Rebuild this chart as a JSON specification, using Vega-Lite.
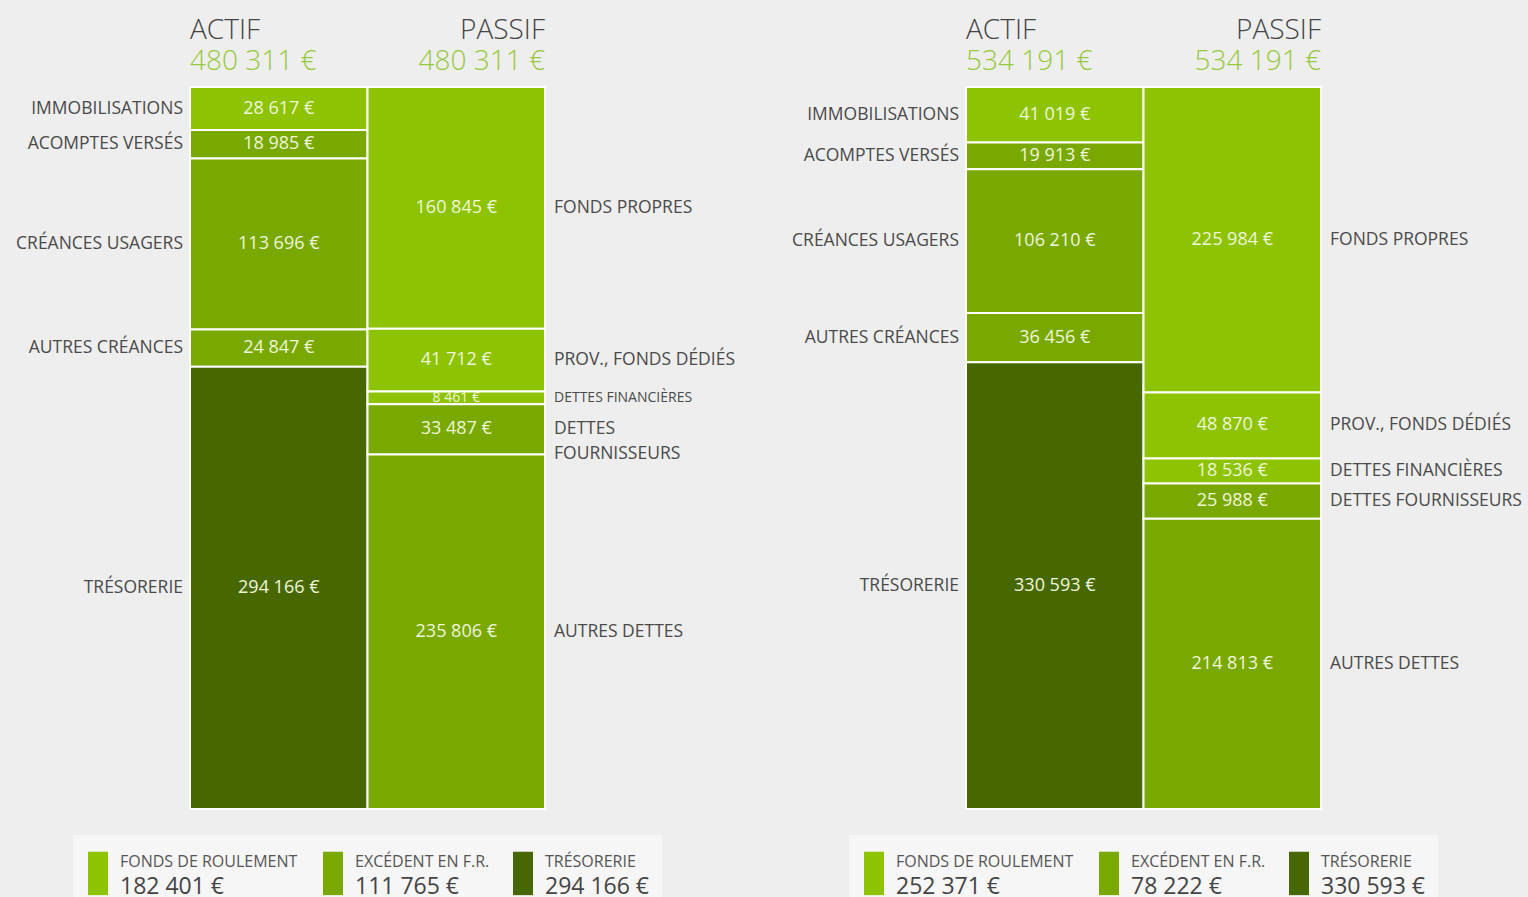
{
  "$schema": "https://vega.github.io/schema/vega-lite/v6.json",
  "background": "#EEEEEE",
  "autosize": {"type": "none"},
  "padding": {"left": 73, "top": 1, "right": 1455, "bottom": 896},
  "bounds": "flush",
  "columns": 2,
  "spacing": {"row": 26, "column": 187},
  "config": {
    "font": "Open Sans",
    "view": {"stroke": null},
    "locale": {"number": {"decimal": ",", "thousands": "\u00a0", "grouping": [3], "currency": ["", "\u00a0€"]}}
  },
  "datasets": {
    "postes": [
      {"bilan": "Bilan 1", "cote": "ACTIF", "ord": 1, "poste": "IMMOBILISATIONS", "valeur": 28617, "groupe": "FONDS DE ROULEMENT"},
      {"bilan": "Bilan 1", "cote": "ACTIF", "ord": 2, "poste": "ACOMPTES VERSÉS", "valeur": 18985, "groupe": "EXCÉDENT EN F.R."},
      {"bilan": "Bilan 1", "cote": "ACTIF", "ord": 3, "poste": "CRÉANCES USAGERS", "valeur": 113696, "groupe": "EXCÉDENT EN F.R."},
      {"bilan": "Bilan 1", "cote": "ACTIF", "ord": 4, "poste": "AUTRES CRÉANCES", "valeur": 24847, "groupe": "EXCÉDENT EN F.R."},
      {"bilan": "Bilan 1", "cote": "ACTIF", "ord": 5, "poste": "TRÉSORERIE", "valeur": 294166, "groupe": "TRÉSORERIE"},
      {"bilan": "Bilan 1", "cote": "PASSIF", "ord": 1, "poste": "FONDS PROPRES", "valeur": 160845, "groupe": "FONDS DE ROULEMENT"},
      {"bilan": "Bilan 1", "cote": "PASSIF", "ord": 2, "poste": "PROV., FONDS DÉDIÉS", "valeur": 41712, "groupe": "FONDS DE ROULEMENT"},
      {"bilan": "Bilan 1", "cote": "PASSIF", "ord": 3, "poste": "DETTES FINANCIÈRES", "valeur": 8461, "groupe": "FONDS DE ROULEMENT"},
      {"bilan": "Bilan 1", "cote": "PASSIF", "ord": 4, "poste": "DETTES\nFOURNISSEURS", "valeur": 33487, "groupe": "EXCÉDENT EN F.R."},
      {"bilan": "Bilan 1", "cote": "PASSIF", "ord": 5, "poste": "AUTRES DETTES", "valeur": 235806, "groupe": "EXCÉDENT EN F.R."},
      {"bilan": "Bilan 2", "cote": "ACTIF", "ord": 1, "poste": "IMMOBILISATIONS", "valeur": 41019, "groupe": "FONDS DE ROULEMENT"},
      {"bilan": "Bilan 2", "cote": "ACTIF", "ord": 2, "poste": "ACOMPTES VERSÉS", "valeur": 19913, "groupe": "EXCÉDENT EN F.R."},
      {"bilan": "Bilan 2", "cote": "ACTIF", "ord": 3, "poste": "CRÉANCES USAGERS", "valeur": 106210, "groupe": "EXCÉDENT EN F.R."},
      {"bilan": "Bilan 2", "cote": "ACTIF", "ord": 4, "poste": "AUTRES CRÉANCES", "valeur": 36456, "groupe": "EXCÉDENT EN F.R."},
      {"bilan": "Bilan 2", "cote": "ACTIF", "ord": 5, "poste": "TRÉSORERIE", "valeur": 330593, "groupe": "TRÉSORERIE"},
      {"bilan": "Bilan 2", "cote": "PASSIF", "ord": 1, "poste": "FONDS PROPRES", "valeur": 225984, "groupe": "FONDS DE ROULEMENT"},
      {"bilan": "Bilan 2", "cote": "PASSIF", "ord": 2, "poste": "PROV., FONDS DÉDIÉS", "valeur": 48870, "groupe": "FONDS DE ROULEMENT"},
      {"bilan": "Bilan 2", "cote": "PASSIF", "ord": 3, "poste": "DETTES FINANCIÈRES", "valeur": 18536, "groupe": "FONDS DE ROULEMENT"},
      {"bilan": "Bilan 2", "cote": "PASSIF", "ord": 4, "poste": "DETTES FOURNISSEURS", "valeur": 25988, "groupe": "EXCÉDENT EN F.R."},
      {"bilan": "Bilan 2", "cote": "PASSIF", "ord": 5, "poste": "AUTRES DETTES", "valeur": 214813, "groupe": "EXCÉDENT EN F.R."}
    ],
    "legende": [
      {"bilan": "Bilan 1", "item": 1, "groupe": "FONDS DE ROULEMENT", "valeur": 182401},
      {"bilan": "Bilan 1", "item": 2, "groupe": "EXCÉDENT EN F.R.", "valeur": 111765},
      {"bilan": "Bilan 1", "item": 3, "groupe": "TRÉSORERIE", "valeur": 294166},
      {"bilan": "Bilan 2", "item": 1, "groupe": "FONDS DE ROULEMENT", "valeur": 252371},
      {"bilan": "Bilan 2", "item": 2, "groupe": "EXCÉDENT EN F.R.", "valeur": 78222},
      {"bilan": "Bilan 2", "item": 3, "groupe": "TRÉSORERIE", "valeur": 330593}
    ]
  },
  "concat": [
    {
      "width": 589, "height": 60,
      "data": {"name": "postes"},
      "transform": [{"filter": "datum.bilan === 'Bilan 1'"}, {"aggregate": [{"op": "sum", "field": "valeur", "as": "total"}], "groupby": ["cote"]}],
      "layer": [
        {"transform": [{"filter": "datum.cote === 'ACTIF'"}], "mark": {"type": "text", "align": "left", "baseline": "middle", "dy": 0, "fontSize": 28, "fontWeight": 300, "color": "#444444"},
         "encoding": {"x": {"field": "cote", "type": "nominal", "bandPosition": 0, "scale": {"type": "band", "domain": ["ACTIF", "PASSIF"], "paddingInner": 0, "paddingOuter": 0.6592}, "axis": null}, "text": {"field": "cote"}}},
        {"transform": [{"filter": "datum.cote === 'ACTIF'"}], "mark": {"type": "text", "align": "left", "baseline": "middle", "dy": 31, "fontSize": 28, "fontWeight": 300, "color": "#97C93C"},
         "encoding": {"x": {"field": "cote", "type": "nominal", "bandPosition": 0, "scale": {"type": "band", "domain": ["ACTIF", "PASSIF"], "paddingInner": 0, "paddingOuter": 0.6592}, "axis": null}, "text": {"field": "total", "type": "quantitative", "format": "$,.0f"}}},
        {"transform": [{"filter": "datum.cote === 'PASSIF'"}], "mark": {"type": "text", "align": "right", "baseline": "middle", "dy": 0, "fontSize": 28, "fontWeight": 300, "color": "#444444"},
         "encoding": {"x": {"field": "cote", "type": "nominal", "bandPosition": 1, "scale": {"type": "band", "domain": ["ACTIF", "PASSIF"], "paddingInner": 0, "paddingOuter": 0.6592}, "axis": null}, "text": {"field": "cote"}}},
        {"transform": [{"filter": "datum.cote === 'PASSIF'"}], "mark": {"type": "text", "align": "right", "baseline": "middle", "dy": 31, "fontSize": 28, "fontWeight": 300, "color": "#97C93C"},
         "encoding": {"x": {"field": "cote", "type": "nominal", "bandPosition": 1, "scale": {"type": "band", "domain": ["ACTIF", "PASSIF"], "paddingInner": 0, "paddingOuter": 0.6592}, "axis": null}, "text": {"field": "total", "type": "quantitative", "format": "$,.0f"}}}
      ]
    },
    {
      "width": 589, "height": 60,
      "data": {"name": "postes"},
      "transform": [{"filter": "datum.bilan === 'Bilan 2'"}, {"aggregate": [{"op": "sum", "field": "valeur", "as": "total"}], "groupby": ["cote"]}],
      "layer": [
        {"transform": [{"filter": "datum.cote === 'ACTIF'"}], "mark": {"type": "text", "align": "left", "baseline": "middle", "dy": 0, "fontSize": 28, "fontWeight": 300, "color": "#444444"},
         "encoding": {"x": {"field": "cote", "type": "nominal", "bandPosition": 0, "scale": {"type": "band", "domain": ["ACTIF", "PASSIF"], "paddingInner": 0, "paddingOuter": 0.6592}, "axis": null}, "text": {"field": "cote"}}},
        {"transform": [{"filter": "datum.cote === 'ACTIF'"}], "mark": {"type": "text", "align": "left", "baseline": "middle", "dy": 31, "fontSize": 28, "fontWeight": 300, "color": "#97C93C"},
         "encoding": {"x": {"field": "cote", "type": "nominal", "bandPosition": 0, "scale": {"type": "band", "domain": ["ACTIF", "PASSIF"], "paddingInner": 0, "paddingOuter": 0.6592}, "axis": null}, "text": {"field": "total", "type": "quantitative", "format": "$,.0f"}}},
        {"transform": [{"filter": "datum.cote === 'PASSIF'"}], "mark": {"type": "text", "align": "right", "baseline": "middle", "dy": 0, "fontSize": 28, "fontWeight": 300, "color": "#444444"},
         "encoding": {"x": {"field": "cote", "type": "nominal", "bandPosition": 1, "scale": {"type": "band", "domain": ["ACTIF", "PASSIF"], "paddingInner": 0, "paddingOuter": 0.6592}, "axis": null}, "text": {"field": "cote"}}},
        {"transform": [{"filter": "datum.cote === 'PASSIF'"}], "mark": {"type": "text", "align": "right", "baseline": "middle", "dy": 31, "fontSize": 28, "fontWeight": 300, "color": "#97C93C"},
         "encoding": {"x": {"field": "cote", "type": "nominal", "bandPosition": 1, "scale": {"type": "band", "domain": ["ACTIF", "PASSIF"], "paddingInner": 0, "paddingOuter": 0.6592}, "axis": null}, "text": {"field": "total", "type": "quantitative", "format": "$,.0f"}}}
      ]
    },
    {
      "width": 589, "height": 722,
      "data": {"name": "postes"},
      "transform": [{"filter": "datum.bilan === 'Bilan 1'"}, {"stack": "valeur", "groupby": ["cote"], "sort": [{"field": "ord", "order": "ascending"}], "as": ["y0", "y1"]}, {"calculate": "(datum.y0 + datum.y1) / 2", "as": "ymid"}],
      "layer": [
        {"mark": {"type": "bar", "stroke": "white", "strokeWidth": 2},
         "encoding": {
           "x": {"field": "cote", "type": "nominal", "scale": {"type": "band", "domain": ["ACTIF", "PASSIF"], "paddingInner": 0, "paddingOuter": 0.6592}, "axis": null},
           "y": {"field": "y0", "type": "quantitative", "scale": {"reverse": true, "nice": false, "zero": true}, "axis": null},
           "y2": {"field": "y1"},
           "color": {"field": "groupe", "type": "nominal", "scale": {"domain": ["FONDS DE ROULEMENT", "EXCÉDENT EN F.R.", "TRÉSORERIE"], "range": ["#8DC300", "#79A900", "#476800"]}, "legend": null}}},
        {"mark": {"type": "text", "baseline": "middle", "color": "#F0F6DA"},
         "encoding": {
           "x": {"field": "cote", "type": "nominal", "scale": {"type": "band", "domain": ["ACTIF", "PASSIF"], "paddingInner": 0, "paddingOuter": 0.6592}, "axis": null},
           "y": {"field": "ymid", "type": "quantitative", "axis": null},
           "text": {"field": "valeur", "type": "quantitative", "format": "$,.0f"},
           "size": {"condition": {"test": "datum.valeur < 10000", "value": 14}, "value": 18}}},
        {"transform": [{"filter": "datum.cote === 'ACTIF'"}],
         "mark": {"type": "text", "align": "right", "baseline": "middle", "dx": -7, "color": "#4A4A4A", "lineBreak": "\n", "lineHeight": 25},
         "encoding": {
           "x": {"field": "cote", "type": "nominal", "bandPosition": 0, "scale": {"type": "band", "domain": ["ACTIF", "PASSIF"], "paddingInner": 0, "paddingOuter": 0.6592}, "axis": null},
           "y": {"field": "ymid", "type": "quantitative", "axis": null},
           "text": {"field": "poste"},
           "size": {"condition": {"test": "datum.valeur < 10000", "value": 14}, "value": 17.5}}},
        {"transform": [{"filter": "datum.cote === 'PASSIF'"}],
         "mark": {"type": "text", "align": "left", "baseline": "middle", "dx": 9, "color": "#4A4A4A", "lineBreak": "\n", "lineHeight": 25},
         "encoding": {
           "x": {"field": "cote", "type": "nominal", "bandPosition": 1, "scale": {"type": "band", "domain": ["ACTIF", "PASSIF"], "paddingInner": 0, "paddingOuter": 0.6592}, "axis": null},
           "y": {"field": "ymid", "type": "quantitative", "axis": null},
           "text": {"field": "poste"},
           "size": {"condition": {"test": "datum.valeur < 10000", "value": 14}, "value": 17.5}}}
      ]
    },
    {
      "width": 589, "height": 722,
      "data": {"name": "postes"},
      "transform": [{"filter": "datum.bilan === 'Bilan 2'"}, {"stack": "valeur", "groupby": ["cote"], "sort": [{"field": "ord", "order": "ascending"}], "as": ["y0", "y1"]}, {"calculate": "(datum.y0 + datum.y1) / 2", "as": "ymid"}],
      "layer": [
        {"mark": {"type": "bar", "stroke": "white", "strokeWidth": 2},
         "encoding": {
           "x": {"field": "cote", "type": "nominal", "scale": {"type": "band", "domain": ["ACTIF", "PASSIF"], "paddingInner": 0, "paddingOuter": 0.6592}, "axis": null},
           "y": {"field": "y0", "type": "quantitative", "scale": {"reverse": true, "nice": false, "zero": true}, "axis": null},
           "y2": {"field": "y1"},
           "color": {"field": "groupe", "type": "nominal", "scale": {"domain": ["FONDS DE ROULEMENT", "EXCÉDENT EN F.R.", "TRÉSORERIE"], "range": ["#8DC300", "#79A900", "#476800"]}, "legend": null}}},
        {"mark": {"type": "text", "baseline": "middle", "color": "#F0F6DA"},
         "encoding": {
           "x": {"field": "cote", "type": "nominal", "scale": {"type": "band", "domain": ["ACTIF", "PASSIF"], "paddingInner": 0, "paddingOuter": 0.6592}, "axis": null},
           "y": {"field": "ymid", "type": "quantitative", "axis": null},
           "text": {"field": "valeur", "type": "quantitative", "format": "$,.0f"},
           "size": {"condition": {"test": "datum.valeur < 10000", "value": 14}, "value": 18}}},
        {"transform": [{"filter": "datum.cote === 'ACTIF'"}],
         "mark": {"type": "text", "align": "right", "baseline": "middle", "dx": -7, "color": "#4A4A4A", "lineBreak": "\n", "lineHeight": 25},
         "encoding": {
           "x": {"field": "cote", "type": "nominal", "bandPosition": 0, "scale": {"type": "band", "domain": ["ACTIF", "PASSIF"], "paddingInner": 0, "paddingOuter": 0.6592}, "axis": null},
           "y": {"field": "ymid", "type": "quantitative", "axis": null},
           "text": {"field": "poste"},
           "size": {"condition": {"test": "datum.valeur < 10000", "value": 14}, "value": 17.5}}},
        {"transform": [{"filter": "datum.cote === 'PASSIF'"}],
         "mark": {"type": "text", "align": "left", "baseline": "middle", "dx": 9, "color": "#4A4A4A", "lineBreak": "\n", "lineHeight": 25},
         "encoding": {
           "x": {"field": "cote", "type": "nominal", "bandPosition": 1, "scale": {"type": "band", "domain": ["ACTIF", "PASSIF"], "paddingInner": 0, "paddingOuter": 0.6592}, "axis": null},
           "y": {"field": "ymid", "type": "quantitative", "axis": null},
           "text": {"field": "poste"},
           "size": {"condition": {"test": "datum.valeur < 10000", "value": 14}, "value": 17.5}}}
      ]
    },
    {
      "width": 589, "height": 62,
      "view": {"fill": "#F6F6F6", "stroke": null},
      "data": {"name": "legende"},
      "transform": [{"filter": "datum.bilan === 'Bilan 1'"}],
      "layer": [
        {"mark": {"type": "rule", "strokeWidth": 20, "xOffset": 10},
         "encoding": {
           "x": {"field": "item", "type": "quantitative", "scale": {"domain": [1, 2, 3], "range": [15, 250, 440], "nice": false, "zero": false}, "axis": null},
           "y": {"datum": 0.03, "type": "quantitative", "scale": {"domain": [0, 1], "nice": false}, "axis": null},
           "y2": {"datum": 0.73},
           "color": {"field": "groupe", "type": "nominal", "scale": {"domain": ["FONDS DE ROULEMENT", "EXCÉDENT EN F.R.", "TRÉSORERIE"], "range": ["#8DC300", "#79A900", "#476800"]}, "legend": null}}},
        {"mark": {"type": "text", "align": "left", "baseline": "middle", "dx": 32, "fontSize": 16, "color": "#555555"},
         "encoding": {
           "x": {"field": "item", "type": "quantitative", "axis": null},
           "y": {"datum": 0.565, "type": "quantitative", "axis": null},
           "text": {"field": "groupe"}}},
        {"mark": {"type": "text", "align": "left", "baseline": "middle", "dx": 32, "fontSize": 23, "color": "#444444"},
         "encoding": {
           "x": {"field": "item", "type": "quantitative", "axis": null},
           "y": {"datum": 0.16, "type": "quantitative", "axis": null},
           "text": {"field": "valeur", "type": "quantitative", "format": "$,.0f"}}}
      ]
    },
    {
      "width": 589, "height": 62,
      "view": {"fill": "#F6F6F6", "stroke": null},
      "data": {"name": "legende"},
      "transform": [{"filter": "datum.bilan === 'Bilan 2'"}],
      "layer": [
        {"mark": {"type": "rule", "strokeWidth": 20, "xOffset": 10},
         "encoding": {
           "x": {"field": "item", "type": "quantitative", "scale": {"domain": [1, 2, 3], "range": [15, 250, 440], "nice": false, "zero": false}, "axis": null},
           "y": {"datum": 0.03, "type": "quantitative", "scale": {"domain": [0, 1], "nice": false}, "axis": null},
           "y2": {"datum": 0.73},
           "color": {"field": "groupe", "type": "nominal", "scale": {"domain": ["FONDS DE ROULEMENT", "EXCÉDENT EN F.R.", "TRÉSORERIE"], "range": ["#8DC300", "#79A900", "#476800"]}, "legend": null}}},
        {"mark": {"type": "text", "align": "left", "baseline": "middle", "dx": 32, "fontSize": 16, "color": "#555555"},
         "encoding": {
           "x": {"field": "item", "type": "quantitative", "axis": null},
           "y": {"datum": 0.565, "type": "quantitative", "axis": null},
           "text": {"field": "groupe"}}},
        {"mark": {"type": "text", "align": "left", "baseline": "middle", "dx": 32, "fontSize": 23, "color": "#444444"},
         "encoding": {
           "x": {"field": "item", "type": "quantitative", "axis": null},
           "y": {"datum": 0.16, "type": "quantitative", "axis": null},
           "text": {"field": "valeur", "type": "quantitative", "format": "$,.0f"}}}
      ]
    }
  ]
}
